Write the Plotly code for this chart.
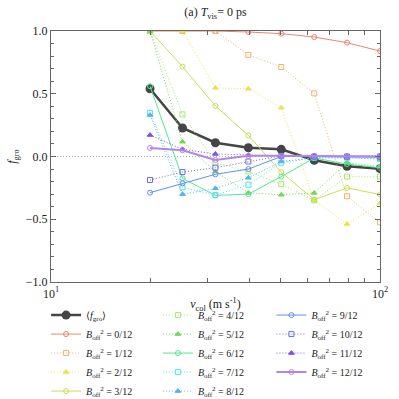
import plotly.graph_objects as go

# collision speed (m/s), log spaced
v_col = [20.0, 25.1, 31.6, 39.8, 50.1, 63.1, 79.4, 100.0]

# average growth fraction
f_mean = [0.54, 0.227, 0.11, 0.07, 0.057, -0.03, -0.078, -0.097]

# growth fraction for each B_off^2
b0 = [1.0, 1.0, 1.0, 0.992, 0.979, 0.952, 0.907, 0.84]
b1 = [1.0, 1.0, 1.0, 0.81, 0.713, 0.503, -0.317, -0.525]
b2 = [1.0, 1.0, 0.547, 0.54, 0.389, -0.35, -0.538, -0.373]
b3 = [1.0, 0.716, 0.403, 0.168, -0.125, -0.344, -0.25, -0.303]
b4 = [1.0, 0.336, -0.05, -0.12, -0.22, -0.35, -0.16, -0.16]
b5 = [1.0, 0.118, -0.12, -0.29, -0.305, -0.29, -0.05, -0.08]
b6 = [0.56, -0.174, -0.31, -0.30, -0.16, -0.012, -0.06, -0.09]
b7 = [0.347, -0.246, -0.307, -0.225, -0.05, -0.01, -0.01, -0.02]
b8 = [0.33, -0.30, -0.254, -0.17, -0.04, -0.01, -0.01, -0.02]
b9 = [-0.288, -0.214, -0.142, -0.10, 0.0, 0.0, -0.005, -0.005]
b10 = [-0.187, -0.124, -0.089, -0.04, 0.005, 0.0, 0.0, 0.0]
b11 = [0.171, 0.057, 0.02, 0.01, 0.005, 0.005, 0.005, 0.005]
b12 = [0.068, 0.05, -0.028, 0.005, 0.005, 0.005, 0.0, 0.0]

series = [b0, b1, b2, b3, b4, b5, b6, b7, b8, b9, b10, b11, b12]
colors = ["#e8876c", "#f2b466", "#f0e04a", "#c8e052", "#a8e86c", "#72d852",
          "#52e892", "#52e6ea", "#56b4ec", "#6090f0", "#6a6af0", "#7c52ea", "#b484ea"]
symbols = ["circle-open", "square-open", "triangle-up"]
dashes = ["solid", "1px,2px", "1px,2px"]

serif = "Liberation Serif, Times New Roman, serif"
ink = "#222222"

fig = go.Figure()

fig.add_trace(go.Scatter(
    x=v_col, y=f_mean, mode="lines+markers", name="⟨<i>f</i><sub>gro</sub>⟩",
    line=dict(color="#454545", width=2.5), marker=dict(size=9, color="#454545"),
    legend="legend"))

for i, ys in enumerate(series):
    k = i % 3
    leg = "legend" if i < 4 else ("legend2" if i < 9 else "legend3")
    fig.add_trace(go.Scatter(
        x=v_col, y=ys, mode="lines+markers",
        name="<i>B</i><sub>off</sub><sup>2</sup> = %d/12" % i,
        line=dict(color=colors[i], width=2 if i == 12 else 1, dash=dashes[k]),
        marker=dict(symbol=symbols[k], size=5, color=colors[i],
                    line=dict(color=colors[i], width=1)),
        legend=leg))

fig.add_hline(y=0, line=dict(color="#aaaaaa", width=1, dash="1px,2px"), layer="below")

axis_common = dict(showline=True, linecolor="#666666", linewidth=1.2, mirror="ticks",
                   ticks="inside", tickcolor="#666666", showgrid=False, zeroline=False,
                   tickfont=dict(family=serif, size=12, color=ink))

fig.update_xaxes(type="log", range=[1, 2], tickvals=[10, 100],
                 ticktext=["10<sup>1</sup>", "10<sup>2</sup>"], ticklen=5,
                 minor=dict(ticks="inside", tickvals=[20, 30, 40, 50, 60, 70, 80, 90],
                            ticklen=4, tickcolor="#666666"),
                 title=dict(text="<i>v</i><sub>col</sub> (m s<sup>-1</sup>)",
                            font=dict(family=serif, size=12, color=ink), standoff=0),
                 **axis_common)
fig.update_yaxes(range=[-1, 1], dtick=0.5, tickformat=".1f", ticklen=5,
                 minor=dict(ticks="inside", dtick=0.1, ticklen=3, tickcolor="#666666"),
                 title=dict(text="<i>f</i><sub>gro</sub>",
                            font=dict(family=serif, size=12, color=ink), standoff=6),
                 **axis_common)

leg_common = dict(font=dict(family=serif, size=10, color=ink), bgcolor="rgba(0,0,0,0)",
                  yanchor="top", xanchor="left", tracegroupgap=0, itemwidth=30)

fig.update_layout(
    width=399, height=399,
    margin=dict(l=51, r=19, t=31, b=117, autoexpand=False),
    paper_bgcolor="white", plot_bgcolor="white",
    title=dict(text="(a) <i>T</i><sub>vis</sub>= 0 ps", x=0.54, y=0.97, xanchor="center",
               yanchor="middle", font=dict(family=serif, size=12, color=ink)),
    legend=dict(x=-0.015, y=-0.074, **leg_common),
    legend2=dict(x=0.325, y=-0.074, **leg_common),
    legend3=dict(x=0.67, y=-0.074, **leg_common),
)

# drop the default page margin so the figure sits at the window corner
fig.write_html("out.html", config={"displayModeBar": False},
               post_script="document.body.style.margin='0';")
